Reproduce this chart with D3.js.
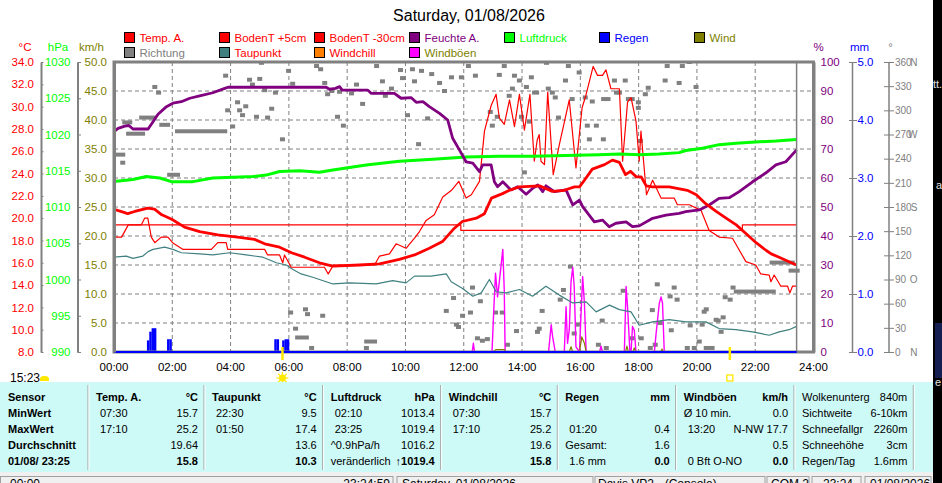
<!DOCTYPE html>
<html>
<head>
<meta charset="utf-8">
<script src="https://cdn.jsdelivr.net/npm/d3@7"></script>
<style>
    body { margin: 0; background: #ffffff; }
    svg { display: block; }
</style>
</head>
<body>
<svg id="weather_svg"></svg>
<script>
"use strict";

const width = 942;
const height = 483;
const font = "'Liberation Sans', Arial, sans-serif";

const plot_left = 114;
const plot_right = 813.5;
const plot_top = 62;
const plot_bottom = 352;

const grid_color = "#808080";


// data
const title_text = "Saturday, 01/08/2026";
const hour_ticks = [0, 2, 4, 6, 8, 10, 12, 14, 16, 18, 20, 22, 24];
const hour_labels = ["00:00", "02:00", "04:00", "06:00", "08:00", "10:00", "12:00",
    "14:00", "16:00", "18:00", "20:00", "22:00", "24:00"];
const now_hour = 23.42;
const sun_hours = [5.78, 21.13];
const day_length = "15:23";

// [hour, °C]
const temp_a = [[0, 20.8], [0.37, 20.5], [0.47, 20.4], [0.71, 20.6], [1.16, 20.9], [1.39, 20.8],
    [1.64, 20.3], [1.98, 19.9], [2.42, 19.2], [2.94, 18.8], [3.56, 18.5], [4.24, 18.3], [4.82, 18.1],
    [5.17, 17.7], [5.68, 17.4], [6.09, 16.9], [6.54, 16.5], [7.05, 16.0], [7.5, 15.7], [8.42, 15.8],
    [9.11, 15.9], [9.79, 16.3], [10.31, 16.7], [10.82, 17.3], [11.27, 17.9], [11.68, 19.1],
    [11.95, 19.7], [12.43, 20.0], [12.71, 20.4], [12.95, 21.8], [13.33, 22.2], [13.57, 22.5],
    [13.91, 22.8], [14.6, 22.9], [15.04, 22.4], [15.45, 22.5], [15.8, 22.8], [15.97, 22.8],
    [16.14, 23.4], [16.41, 24.4], [16.83, 24.8], [17.1, 25.2], [17.34, 25.0], [17.55, 23.9],
    [17.72, 24.2], [17.92, 23.7], [18.09, 23.7], [18.26, 22.9], [18.48, 22.8], [19.05, 22.8],
    [19.67, 22.5], [19.98, 22.1], [20.3, 21.3], [20.66, 20.6], [21.0, 20.0], [21.35, 19.4],
    [21.69, 18.6], [22.03, 17.8], [22.38, 17.1], [22.55, 16.8], [22.82, 16.5], [23.16, 16.1],
    [23.42, 15.8]];

const boden_5cm = [[0, 18.3], [0.26, 18.3], [0.49, 19.4], [0.94, 19.4], [1.05, 20.0], [1.16, 20.0],
    [1.28, 18.3], [1.4, 17.8], [1.62, 18.3], [1.85, 18.3], [2.01, 17.8], [2.37, 17.2], [3.34, 17.2],
    [3.56, 17.8], [3.85, 17.8], [3.9, 17.2], [5.17, 17.2], [5.27, 16.7], [5.68, 16.7], [5.79, 16.0],
    [5.85, 16.7], [6.08, 15.6], [7.22, 15.6], [7.35, 15.0], [7.53, 15.8], [8.94, 15.8], [9.11, 16.6],
    [9.45, 16.8], [9.68, 17.7], [10.02, 17.3], [10.31, 18.2], [10.48, 18.8], [10.71, 19.8],
    [10.99, 20.3], [11.28, 21.9], [11.58, 22.5], [11.83, 23.3], [12.08, 21.8], [12.26, 22.1],
    [12.54, 23.3], [12.71, 27.8], [12.94, 30.1], [13.11, 31.1], [13.22, 29.0], [13.39, 28.4],
    [13.57, 30.6], [13.74, 28.2], [13.91, 31.1], [14.08, 27.9], [14.27, 31.1], [14.42, 25.1],
    [14.52, 27.0], [14.59, 27.5], [14.65, 25.1], [14.77, 24.8], [14.88, 31.3], [15.07, 23.9],
    [15.28, 26.6], [15.62, 30.6], [15.85, 24.5], [16.06, 29.9], [16.19, 31.0], [16.44, 33.6],
    [16.59, 32.8], [16.76, 32.8], [16.88, 33.3], [17.05, 31.6], [17.34, 31.6], [17.45, 25.1],
    [17.62, 30.4], [17.74, 30.8], [17.91, 28.7], [18.02, 25.1], [18.08, 27.8], [18.23, 23.3],
    [18.27, 22.1], [18.48, 23.4], [18.77, 21.8], [19.22, 21.8], [19.33, 21.2], [19.74, 21.2],
    [20.14, 20.7], [20.42, 18.9], [20.76, 18.3], [21.22, 18.2], [21.68, 16.1], [22.02, 15.8],
    [22.19, 15.0], [22.48, 14.9], [22.54, 14.3], [22.65, 14.9], [22.88, 13.9], [23.11, 13.9],
    [23.19, 13.3], [23.28, 13.9], [23.42, 13.9]];

const boden_30cm = [[0, 19.4], [11.9, 18.9], [21.56, 19.4], [23.42, 19.4]];

const taupunkt = [[0, 16.5], [0.42, 16.6], [0.65, 16.4], [0.99, 16.6], [1.17, 17.0], [1.34, 17.2],
    [1.74, 17.4], [2.02, 17.2], [2.31, 16.9], [2.94, 16.8], [3.39, 16.7], [3.97, 16.9], [4.54, 16.7],
    [5.11, 16.5], [5.57, 16.0], [5.91, 15.8], [6.14, 15.4], [6.42, 15.0], [6.82, 14.7], [7.05, 14.5],
    [7.51, 14.1], [8.08, 14.2], [9.0, 14.1], [9.56, 14.4], [10.02, 14.2], [10.31, 14.8], [10.88, 14.8],
    [11.4, 15.0], [11.57, 14.3], [11.96, 13.7], [12.31, 13.0], [12.6, 13.3], [12.88, 14.5],
    [13.11, 13.4], [13.45, 13.3], [13.91, 13.6], [14.36, 13.0], [14.82, 13.9], [15.28, 13.1],
    [15.74, 12.4], [16.2, 12.5], [16.54, 11.6], [17.0, 12.2], [17.34, 11.8], [17.74, 11.6],
    [18.02, 10.4], [18.48, 10.7], [19.05, 10.9], [19.62, 10.7], [20.31, 10.7], [20.76, 10.1],
    [21.34, 10.0], [21.91, 9.8], [22.48, 9.5], [22.82, 9.8], [23.16, 10.0], [23.42, 10.3]];

// [hour, %]
const feuchte = [[0, 76.0], [0.14, 77.1], [0.37, 77.9], [0.51, 78.1], [0.65, 76.9], [1.17, 76.9],
    [1.34, 79.4], [1.51, 82.0], [1.8, 84.6], [2.02, 85.8], [2.31, 86.3], [2.6, 87.5], [2.94, 88.3],
    [3.39, 89.4], [3.8, 90.9], [3.91, 91.3], [7.28, 91.3], [7.39, 90.6], [7.6, 90.9], [7.74, 91.5],
    [7.83, 90.3], [8.71, 90.3], [8.82, 89.2], [9.62, 89.2], [9.85, 87.5], [10.2, 87.7], [10.37, 86.1],
    [10.6, 86.3], [10.82, 84.6], [11.17, 82.3], [11.45, 80.0], [11.62, 73.7], [11.85, 69.7],
    [12.08, 65.6], [12.31, 65.1], [12.54, 62.2], [12.65, 64.5], [12.94, 64.5], [13.05, 58.7],
    [13.16, 57.0], [13.34, 58.7], [13.62, 55.9], [13.85, 57.0], [14.14, 54.4], [14.36, 56.4],
    [14.54, 57.6], [14.71, 55.3], [14.82, 57.3], [15.11, 55.3], [15.51, 55.9], [15.74, 50.7],
    [15.97, 52.4], [16.08, 50.1], [16.48, 44.9], [16.76, 45.5], [16.99, 43.2], [17.22, 44.4],
    [17.57, 44.9], [17.79, 43.2], [18.02, 43.5], [18.48, 46.1], [18.94, 47.2], [19.39, 47.8],
    [19.62, 48.4], [20.08, 49.0], [20.42, 50.7], [20.76, 53.0], [21.11, 53.2], [21.45, 55.3],
    [21.91, 58.7], [22.37, 61.8], [22.71, 64.5], [23.05, 65.6], [23.42, 69.7]];

// [hour, hPa]
const luftdruck = [[0, 1013.5], [0.65, 1013.8], [1.11, 1014.2], [1.57, 1014.0], [1.97, 1013.5],
    [2.71, 1013.5], [3.39, 1014.0], [4.77, 1014.2], [5.22, 1014.4], [5.68, 1014.9], [6.37, 1015.0],
    [7.05, 1014.8], [7.51, 1015.1], [8.65, 1015.8], [9.79, 1016.3], [10.94, 1016.6], [12.08, 1016.9],
    [13.22, 1017.0], [14.36, 1017.0], [15.5, 1017.1], [16.65, 1017.2], [17.34, 1017.3],
    [18.02, 1017.2], [18.7, 1017.3], [19.39, 1017.5], [19.62, 1017.8], [20.19, 1018.1],
    [20.76, 1018.6], [21.34, 1018.8], [22.14, 1019.0], [22.71, 1019.1], [23.42, 1019.3]];

// [hour, mm] per 5 minutes
const regen = [[1.13, 0.2], [1.21, 0.35], [1.29, 0.41], [1.37, 0.41], [1.82, 0.22], [1.9, 0.22],
    [5.5, 0.22], [5.58, 0.22], [5.77, 0.2], [5.85, 0.22], [5.93, 0.22]];

// [hour, km/h]
const windboeen = [[0, 0], [12.29, 0], [12.33, 1.5], [12.37, 0], [12.97, 0], [13.02, 6.1],
    [13.09, 13.6], [13.16, 9.5], [13.22, 12.1], [13.34, 17.7], [13.39, 10.7], [13.42, 0], [14.91, 0],
    [15.0, 4.7], [15.05, 2.6], [15.14, 0], [15.45, 0], [15.51, 7.8], [15.56, 1.5], [15.62, 3.8],
    [15.68, 12.1], [15.74, 14.6], [15.79, 11.3], [15.85, 0.9], [15.97, 0], [16.02, 6.1],
    [16.08, 13.0], [16.14, 8.4], [16.2, 0], [16.66, 0], [16.71, 1.0], [16.76, 0], [17.51, 0],
    [17.57, 11.3], [17.62, 7.8], [17.7, 0], [17.74, 0], [17.79, 4.4], [17.85, 3.8], [17.91, 0],
    [18.54, 0], [18.6, 3.2], [18.71, 8.4], [18.77, 9.5], [18.82, 8.4], [18.88, 0], [23.42, 0]];

const wind = [[0, 0], [13.0, 0], [13.1, 0.4], [13.4, 0.4], [13.45, 0], [15.62, 0], [15.68, 0.9],
    [15.74, 0], [15.97, 0], [16.05, 2.6], [16.14, 1.5], [16.2, 0], [17.55, 0], [17.6, 1.0],
    [17.65, 0], [17.8, 0], [17.85, 0.7], [17.9, 0], [18.75, 0], [18.8, 0.5], [18.85, 0], [23.42, 0]];

// [hour, degrees]
const richtung = [[0.3, 235], [1.4, 329], [1.53, 322], [3.83, 343], [3.9, 300], [4.07, 280],
    [4.24, 310], [4.31, 300], [4.41, 294], [4.52, 305], [4.65, 338], [4.75, 332], [4.89, 292],
    [5.0, 339], [5.06, 359], [5.17, 325], [5.27, 291], [5.41, 302], [5.54, 322], [5.78, 264],
    [5.99, 349], [6.13, 333], [6.95, 355], [7.09, 351], [7.23, 334], [7.33, 320], [7.47, 324],
    [7.67, 292], [7.74, 323], [7.87, 281], [8.15, 321], [8.32, 332], [8.53, 308], [9.01, 355],
    [9.21, 336], [9.31, 318], [9.52, 327], [9.83, 350], [9.9, 340], [10.07, 294], [10.24, 351],
    [10.31, 336], [10.45, 258], [10.55, 349], [10.76, 290], [10.9, 345], [11.17, 334], [11.34, 324],
    [11.58, 341], [11.92, 341], [12.16, 355], [12.4, 343], [12.91, 298], [12.98, 281], [13.15, 292],
    [13.22, 344], [13.39, 355], [13.56, 318], [13.67, 327], [13.74, 343], [13.91, 337], [13.98, 292],
    [14.08, 223], [14.15, 329], [14.25, 286], [14.32, 341], [14.84, 359], [14.9, 327], [15.04, 322],
    [15.14, 316], [15.25, 291], [15.49, 337], [15.59, 355], [15.72, 314], [15.96, 347], [16.17, 316],
    [16.24, 281], [16.41, 311], [16.31, 264], [16.55, 281], [16.79, 264], [17.17, 337], [17.24, 322],
    [17.34, 322], [17.54, 337], [17.65, 314], [17.78, 314], [17.99, 310], [17.99, 303], [18.06, 262],
    [18.23, 320], [18.33, 328], [18.91, 337], [18.98, 355], [19.5, 355], [19.74, 360], [19.39, 334],
    [19.97, 329],
    [6.06, 49], [6.23, 29], [6.57, 53], [6.64, 47], [6.78, 5], [7.16, 45], [8.66, 5], [11.4, 51],
    [11.65, 67], [11.75, 34], [11.82, 31], [11.96, 45], [12.23, 49], [12.3, 80], [12.57, 63],
    [12.47, 17], [12.64, 14], [12.81, 16], [13.09, 49], [13.32, 49], [13.5, 9], [13.81, 26],
    [14.53, 25], [14.59, 29], [14.69, 51], [15.31, 65], [15.42, 77], [15.66, 106], [15.9, 34],
    [15.79, 23], [16.75, 39], [16.62, 9], [16.89, 5], [17.47, 76], [17.78, 17], [18.09, 17],
    [18.4, 5], [18.47, 52], [18.57, 9], [18.64, 84], [18.74, 36], [19.08, 69], [19.12, 27],
    [19.22, 80], [19.32, 65], [19.67, 5], [19.77, 33], [19.91, 5], [20.08, 13], [20.18, 34],
    [20.25, 50], [20.32, 53], [20.66, 40], [20.73, 39], [20.83, 25], [20.9, 43], [20.97, 68],
    [21.14, 65], [21.24, 80]];

// [from hour, to hour, degrees] where the direction stayed the same
const richtung_runs = [[0, 0.3, 245], [0.37, 0.54, 285], [0.5, 0.98, 271], [0.95, 1.36, 291],
    [1.64, 1.84, 282], [1.91, 2.18, 220], [2.18, 3.8, 274], [6.3, 6.6, 18], [8.67, 8.94, 13],
    [14.43, 14.5, 322], [16.8, 16.95, 314], [20.32, 20.52, 5], [21.35, 22.62, 75],
    [22.58, 23.27, 111], [23.23, 23.44, 101]];

// legend
const legend_names = ["Temp. A.", "BodenT +5cm", "BodenT -30cm", "Feuchte A.", "Luftdruck", "Regen",
    "Wind", "Richtung", "Taupunkt", "Windchill", "Windböen"];
const legend_box_colors = ["#ff0000", "#ff0000", "#ff0000", "#800080", "#00ff00", "#0000ff",
    "#808000", "#808080", "#408080", "#ff8000", "#ff00ff"];
const legend_text_colors = ["#ff0000", "#ff0000", "#ff0000", "#800080", "#00ff00", "#0000ff",
    "#808000", "#808080", "#ff0000", "#ff0000", "#808000"];

// table below the chart
const table_seps = [88, 204, 322.7, 440.7, 557.3, 675.7, 794, 913.3];
const table_left = [
    ["Sensor", "MinWert", "MaxWert", "Durchschnitt", "01/08/ 23:25"],
    ["Temp. A.", "07:30", "17:10", "", ""],
    ["Taupunkt", "22:30", "01:50", "", ""],
    ["Luftdruck", "02:10", "23:25", "^0.9hPa/h", "veränderlich"],
    ["Windchill", "07:30", "17:10", "", ""],
    ["Regen", "", "01:20", "Gesamt:", "1.6 mm"],
    ["Windböen", "Ø 10 min.", "13:20", "", "0 Bft O-NO"],
    ["Wolkenunterg", "Sichtweite", "Schneefallgr", "Schneehöhe", "Regen/Tag"]
];
const table_right = [
    ["", "", "", "", ""],
    ["°C", "15.7", "25.2", "19.64", "15.8"],
    ["°C", "9.5", "17.4", "13.6", "10.3"],
    ["hPa", "1013.4", "1019.4", "1016.2", "\u21911019.4"],
    ["°C", "15.7", "25.2", "19.6", "15.8"],
    ["mm", "", "0.4", "1.6", "0.0"],
    ["km/h", "0.0", "N-NW 17.7", "0.5", "0.0"],
    ["840m", "6-10km", "2260m", "3cm", "1.6mm"]
];

const status_texts = ["00:00", "23:24:59", "Saturday, 01/08/2026", "Davis VP2 - (Console)", "COM 2",
    "23:24", "01/08/2026"];


// scales
const x = d3.scaleLinear().domain([0, 24]).range([plot_left, plot_right]);
const y_temp = d3.scaleLinear().domain([8, 34]).range([plot_bottom, plot_top]);
const y_hpa = d3.scaleLinear().domain([990, 1030]).range([plot_bottom, plot_top]);
const y_kmh = d3.scaleLinear().domain([0, 50]).range([plot_bottom, plot_top]);
const y_pct = d3.scaleLinear().domain([0, 100]).range([plot_bottom, plot_top]);
const y_mm = d3.scaleLinear().domain([0, 5]).range([plot_bottom, plot_top]);
const y_deg = d3.scaleLinear().domain([0, 360]).range([plot_bottom, plot_top]);


const svg = d3.select("#weather_svg")
    .attr("width", width)
    .attr("height", height)
    .style("font-family", font);

svg.append("rect")
    .attr("width", width)
    .attr("height", height)
    .attr("fill", "#ffffff");

// title
svg.append("text")
    .attr("x", 469)
    .attr("y", 21)
    .attr("text-anchor", "middle")
    .style("font-size", "16px")
    .text(title_text);

// legend
const legend = svg.append("g")
    .selectAll("g")
    .data(legend_names)
    .enter()
    .append("g")
    .attr("transform", (d, i) => {
        const col = i < 7 ? i : i - 7;
        const row = i < 7 ? 0 : 1;
        return `translate(${124.5 + col * 95}, ${32.5 + row * 15})`;
    });

legend.append("rect")
    .attr("width", 10)
    .attr("height", 10)
    .attr("fill", (d, i) => legend_box_colors[i])
    .attr("stroke", "#000000");

legend.append("text")
    .attr("x", 15)
    .attr("y", 9.5)
    .style("font-size", "11.5px")
    .style("fill", (d, i) => legend_text_colors[i])
    .text(d => d);


// clip for the plot area
svg.append("clipPath")
    .attr("id", "plot_clip")
    .append("rect")
    .attr("x", plot_left)
    .attr("y", plot_top)
    .attr("width", plot_right - plot_left)
    .attr("height", plot_bottom - plot_top);

const plot = svg.append("g").attr("clip-path", "url(#plot_clip)");

// grid
plot.append("g")
    .selectAll("line")
    .data(d3.range(5, 50, 5))
    .enter()
    .append("line")
    .attr("x1", plot_left)
    .attr("x2", plot_right)
    .attr("y1", d => y_kmh(d))
    .attr("y2", d => y_kmh(d))
    .attr("stroke", grid_color)
    .attr("stroke-dasharray", "4,3");

plot.append("g")
    .selectAll("line")
    .data(hour_ticks.slice(1, -1))
    .enter()
    .append("line")
    .attr("x1", d => x(d))
    .attr("x2", d => x(d))
    .attr("y1", plot_top)
    .attr("y2", plot_bottom)
    .attr("stroke", grid_color)
    .attr("stroke-dasharray", "4,3");

// wind direction squares
plot.append("g")
    .selectAll("rect")
    .data(richtung)
    .enter()
    .append("rect")
    .attr("x", d => x(d[0]) - 2.5)
    .attr("y", d => y_deg(d[1]) - 2)
    .attr("width", 5)
    .attr("height", 4)
    .attr("fill", "#808080");

plot.append("g")
    .selectAll("rect")
    .data(richtung_runs)
    .enter()
    .append("rect")
    .attr("x", d => x(d[0]) - 2.5)
    .attr("y", d => y_deg(d[2]) - 2)
    .attr("width", d => x(d[1]) - x(d[0]) + 5)
    .attr("height", 4)
    .attr("fill", "#808080");

function drawLine(data, y_scale, color, stroke_width, curve) {
    plot.append("path")
        .datum(data)
        .attr("d", d3.line()
            .x(d => x(d[0]))
            .y(d => y_scale(d[1]))
            .curve(curve || d3.curveLinear))
        .attr("fill", "none")
        .attr("stroke", color)
        .attr("stroke-width", stroke_width)
        .attr("stroke-linejoin", "round");
}

drawLine(windboeen, y_kmh, "#ff00ff", 1.4);
drawLine(wind, y_kmh, "#808000", 1.2);

// rain bars
plot.append("g")
    .selectAll("rect")
    .data(regen)
    .enter()
    .append("rect")
    .attr("x", d => x(d[0]))
    .attr("y", d => y_mm(d[1]))
    .attr("width", d => x(d[0] + 1 / 12) - x(d[0]))
    .attr("height", d => y_mm(0) - y_mm(d[1]))
    .attr("fill", "#0000ff");

drawLine(taupunkt, y_temp, "#408080", 1.2);
drawLine(boden_30cm, y_temp, "#ff0000", 1.2, d3.curveStepAfter);
drawLine(boden_5cm, y_temp, "#ff0000", 1.2);
drawLine(luftdruck, y_hpa, "#00ff00", 3);
drawLine(feuchte, y_pct, "#800080", 2.8);
drawLine(temp_a, y_temp, "#ff0000", 2.8);

// current time line
svg.append("line")
    .attr("x1", x(now_hour))
    .attr("x2", x(now_hour))
    .attr("y1", plot_top)
    .attr("y2", plot_bottom)
    .attr("stroke", "#808080")
    .attr("stroke-width", 1.5);

// frame
svg.append("rect")
    .attr("x", plot_left)
    .attr("y", plot_top)
    .attr("width", plot_right - plot_left)
    .attr("height", plot_bottom - plot_top)
    .attr("fill", "none")
    .attr("stroke", "#808080")
    .attr("stroke-width", 3);

// rain base line on top of the frame
svg.append("path")
    .datum([[0, 0], [now_hour, 0]])
    .attr("d", d3.line().x(d => x(d[0])).y(d => y_mm(d[1])))
    .attr("stroke", "#0000ff")
    .attr("stroke-width", 2);


// axes
function sideAxis(axis_fn, scale, values, fmt, axis_x, color, extra, line_width, size) {
    const g = svg.append("g")
        .attr("transform", `translate(${axis_x}, 0)`)
        .call(axis_fn(scale).tickValues(values).tickFormat(fmt)
            .tickSizeInner(6).tickSizeOuter(0).tickPadding(1));
    g.attr("font-family", font).attr("font-size", size || 11.5);
    g.select(".domain").attr("stroke", "#808080").attr("stroke-width", line_width);
    g.selectAll(".tick line").attr("stroke", "#808080").attr("x2", (axis_fn === d3.axisLeft ? extra : -extra));
    g.selectAll(".tick text").attr("fill", color);
    return g;
}

sideAxis(d3.axisLeft, y_temp, d3.range(8, 35, 2), d3.format(".1f"), 41, "#ff0000", 2.5, 2);
sideAxis(d3.axisLeft, y_hpa, d3.range(990, 1031, 5), d3.format("d"), 77.5, "#00ff00", 3.5, 2);
sideAxis(d3.axisLeft, y_kmh, d3.range(0, 51, 5), d3.format(".1f"), plot_left, "#808000", 0, 3);
sideAxis(d3.axisRight, y_pct, d3.range(0, 101, 10), d3.format("d"), plot_right, "#800080", 0, 3);
sideAxis(d3.axisLeft, y_mm, d3.range(0, 6, 1), d3.format(".1f"), 852, "#0000ff", 0, 1.5)
    .call(g => g.selectAll(".tick line").attr("x1", -3).attr("x2", 5))
    .call(g => g.selectAll(".tick text").attr("text-anchor", "start").attr("x", 5.5));

const deg_axis = sideAxis(d3.axisLeft, y_deg, d3.range(0, 361, 30), d3.format("d"), 888.5, "#808080", 0, 1.5, 10)
    .call(g => g.selectAll(".tick line").attr("x1", -4.5).attr("x2", 5.5))
    .call(g => g.selectAll(".tick text").attr("text-anchor", "start").attr("x", 6.5));

const compass = { 0: "N", 90: "O", 180: "S", 270: "W", 360: "N" };
deg_axis.selectAll(".tick")
    .filter(d => compass[d])
    .append("text")
    .attr("x", 29)
    .attr("dy", "0.32em")
    .attr("fill", "#808080")
    .text(d => compass[d]);

// unit labels
const unit_labels = [["°C", 25, "#ff0000"], ["hPa", 58, "#00ff00"], ["km/h", 91.5, "#808000"],
    ["%", 818.5, "#800080"], ["mm", 859.5, "#0000ff"], ["°", 890.5, "#808080"]];

svg.append("g")
    .selectAll("text")
    .data(unit_labels)
    .enter()
    .append("text")
    .attr("x", d => d[1])
    .attr("y", 51)
    .attr("text-anchor", "middle")
    .style("font-size", "11.5px")
    .style("fill", d => d[2])
    .text(d => d[0]);

// hour labels
svg.append("g")
    .selectAll("text")
    .data(hour_ticks)
    .enter()
    .append("text")
    .attr("x", d => x(d))
    .attr("y", 371)
    .attr("text-anchor", "middle")
    .style("font-size", "11.5px")
    .text((d, i) => hour_labels[i]);

// sunrise / sunset marks
svg.append("g")
    .selectAll("line")
    .data(sun_hours)
    .enter()
    .append("line")
    .attr("x1", d => x(d))
    .attr("x2", d => x(d))
    .attr("y1", 347)
    .attr("y2", 360)
    .attr("stroke", "#ffe800")
    .attr("stroke-width", 2.5);

const sun = svg.append("g").attr("transform", `translate(${x(sun_hours[0])}, 378)`);
sun.selectAll("line")
    .data(d3.range(0, 360, 45))
    .enter()
    .append("line")
    .attr("x1", d => 3 * Math.cos(d * Math.PI / 180))
    .attr("y1", d => 3 * Math.sin(d * Math.PI / 180))
    .attr("x2", d => 6 * Math.cos(d * Math.PI / 180))
    .attr("y2", d => 6 * Math.sin(d * Math.PI / 180))
    .attr("stroke", "#ffe800")
    .attr("stroke-width", 1.2);
sun.append("circle").attr("r", 3.5).attr("fill", "#ffe800");

svg.append("rect")
    .attr("x", x(sun_hours[1]) - 3)
    .attr("y", 375)
    .attr("width", 6)
    .attr("height", 6)
    .attr("fill", "none")
    .attr("stroke", "#ffe800")
    .attr("stroke-width", 1.3);

svg.append("text")
    .attr("x", 10)
    .attr("y", 382)
    .style("font-size", "12px")
    .text(day_length);

svg.append("path")
    .attr("d", "M40,381 L40,379 A4,3 0 0 1 44,376 A4,3 0 0 1 49,379 L49,381 Z")
    .attr("fill", "#ffe800");


// table
svg.append("rect")
    .attr("x", 0)
    .attr("y", 382)
    .attr("width", 933)
    .attr("height", 90)
    .attr("fill", "#cdf9f7");

svg.append("g")
    .selectAll("line")
    .data(table_seps)
    .enter()
    .append("line")
    .attr("x1", d => d)
    .attr("x2", d => d)
    .attr("y1", 385)
    .attr("y2", 470)
    .attr("stroke", "#a0a0a0");

svg.append("g")
    .selectAll("line")
    .data(table_seps)
    .enter()
    .append("line")
    .attr("x1", d => d + 1)
    .attr("x2", d => d + 1)
    .attr("y1", 385)
    .attr("y2", 470)
    .attr("stroke", "#ffffff");

const col_starts = [0].concat(table_seps.slice(0, -1));

table_left.forEach((col, c) => {
    col.forEach((txt, r) => {
        if (txt === "") return;
        const indent = (c > 0 && r > 0 && /^\d/.test(txt)) ? 4 : 0;
        svg.append("text")
            .attr("x", col_starts[c] + 8 + indent)
            .attr("y", 400.5 + r * 16)
            .style("font-size", "11px")
            .style("font-weight", (r === 0 && c < 7) || c === 0 ? "bold" : "normal")
            .text(txt);
    });
});

table_right.forEach((col, c) => {
    col.forEach((txt, r) => {
        if (txt === "") return;
        svg.append("text")
            .attr("x", table_seps[c] - 6)
            .attr("y", 400.5 + r * 16)
            .attr("text-anchor", "end")
            .style("font-size", "11px")
            .style("font-weight", (r === 0 || r === 4) && c < 7 ? "bold" : "normal")
            .text(txt);
    });
});


// status bar
svg.append("rect")
    .attr("x", 0)
    .attr("y", 472)
    .attr("width", 933)
    .attr("height", 11)
    .attr("fill", "#f0f0f0");

const status_panels = [[0.5, 393], [397, 593], [595, 765], [767, 809], [812, 861], [865, 931]];

svg.append("g")
    .selectAll("rect")
    .data(status_panels)
    .enter()
    .append("rect")
    .attr("x", d => d[0])
    .attr("y", 476.5)
    .attr("width", d => d[1] - d[0])
    .attr("height", 20)
    .attr("fill", "#f0f0f0")
    .attr("stroke", "#a0a0a0");

const status_x = [10, 390, 402, 598, 771, 823, 870];
svg.append("g")
    .selectAll("text")
    .data(status_texts)
    .enter()
    .append("text")
    .attr("x", (d, i) => status_x[i])
    .attr("y", 487.5)
    .attr("text-anchor", (d, i) => i === 1 ? "end" : "start")
    .style("font-size", "12px")
    .text(d => d);

// window edge on the right
svg.append("rect")
    .attr("x", 933)
    .attr("y", 0)
    .attr("width", 9)
    .attr("height", height)
    .attr("fill", "#000000");

svg.append("rect")
    .attr("x", 935)
    .attr("y", 323)
    .attr("width", 7)
    .attr("height", 55)
    .attr("fill", "#141e50");

const edge_bits = [["tt.", 933, 88], ["a", 936, 189], ["e", 935, 386]];
svg.append("g")
    .selectAll("text")
    .data(edge_bits)
    .enter()
    .append("text")
    .attr("x", d => d[1])
    .attr("y", d => d[2])
    .style("font-size", "11px")
    .style("fill", "#e0e0e0")
    .text(d => d[0]);
</script>
</body>
</html>
